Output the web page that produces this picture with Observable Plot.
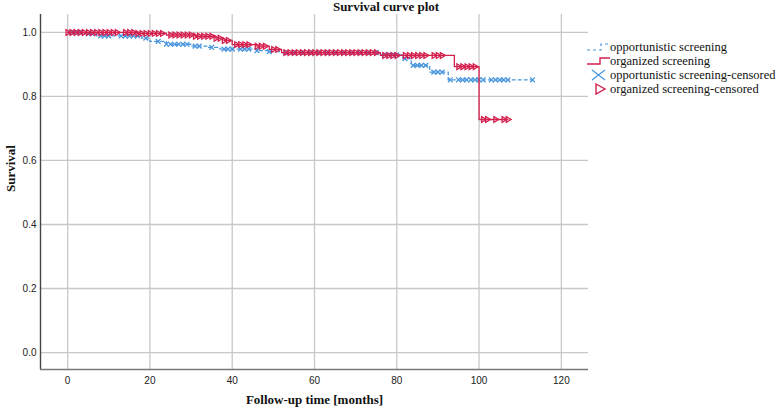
<!DOCTYPE html>
<html>
<head>
<meta charset="utf-8">
<script src="https://cdn.jsdelivr.net/npm/d3@7"></script>
<script src="https://cdn.jsdelivr.net/npm/@observablehq/plot@0.6"></script>
<style>
  body { margin: 0; background: #fff; }
  #wrap { position: relative; width: 778px; height: 411px; overflow: hidden; }
  #title { position: absolute; top: -1px; left: 0; width: 772px; text-align: center;
           font: bold 13px "Liberation Serif", "Times New Roman", serif; color: #111; }
  #legend { position: absolute; left: 586px; top: 40px;
            font: 12.5px "Liberation Serif", "Times New Roman", serif; color: #111; }
  .item { display: flex; align-items: center; height: 14px; }
  .item svg { width: 24px; height: 14px; flex: none; }
</style>
</head>
<body>
<div id="wrap">
  <div id="chart"></div>
  <div id="title">Survival curve plot</div>
  <div id="legend"></div>
</div>
<script>
// ---- data ----
const seriesNames = ["opportunistic screening", "organized screening"];
const legendLabels = ["opportunistic screening", "organized screening",
                      "opportunistic screening-censored", "organized screening-censored"];

// opportunistic screening: step times (months) and survival
const oppTime = [0, 4, 7, 18, 20, 24, 30, 34, 37, 46, 49, 52, 76, 81.5, 83.5, 88, 92.5, 113];
const oppSurv = [1.0, 0.996, 0.989, 0.982, 0.972, 0.963, 0.957, 0.953, 0.948, 0.943, 0.94, 0.937, 0.93, 0.918, 0.897, 0.876, 0.852, 0.852];
// opportunistic screening: censored times
const oppCensored = [1,2,3,5,6,8,9,10,13,14,15,16,17,19,22,24,25,26,27,28,29,31,32,35,38,39,40,42,43,44,46,49,
  53,55,57,59,61,63,65,67,69,71,73,75,77,78,79,80,82,84,85,86,87,89,90,91,93,95,96,97,98,99,100,101,103,104,105,106,107,113];

// organized screening: step times (months) and survival
const orgTime = [0, 17, 24, 31, 36, 38, 40, 46, 49, 52, 76, 94, 100, 107];
const orgSurv = [1.0, 0.997, 0.992, 0.988, 0.982, 0.975, 0.962, 0.957, 0.947, 0.937, 0.928, 0.893, 0.728, 0.728];
// organized screening: censored times
const orgCensored = [0,1,2,3,4,5,6,7,8,9,10,11,12,14,15,16,17,18,19,20,21,22,23,25,26,27,28,29,30,31,32,33,34,35,36,37,38,39,
  41,42,43,44,46,47,48,50,51,53,54,55,56,57,58,59,60,61,62,63,64,65,66,67,68,69,70,71,72,73,74,75,
  77,78,79,80,82,83,84,85,86,87,89,90,91,95,96,97,98,99,101,102,104,106,107];

const xTicks = [0, 20, 40, 60, 80, 100, 120];
const yTicks = [0, 0.2, 0.4, 0.6, 0.8, 1.0];
const xDomain = [-6.6, 126.6];
const yDomain = [-0.053, 1.056];
const xLabel = "Follow-up time [months]";
const yLabel = "Survival";

const blue = "#4a96dd";
const red = "#d4204e";

// ---- build tables ----
function survAt(T, S, t) {
  let s = S[0];
  for (let i = 0; i < T.length; i++) if (T[i] <= t) s = S[i];
  return s;
}
const oppLine = oppTime.map((t, i) => ({t, s: oppSurv[i]}));
const orgLine = orgTime.map((t, i) => ({t, s: orgSurv[i]}));
const oppCens = oppCensored.map(t => ({t, s: survAt(oppTime, oppSurv, t)}));
const orgCens = orgCensored.map(t => ({t, s: survAt(orgTime, orgSurv, t)}));

const chart = Plot.plot({
  width: 778,
  height: 411,
  marginLeft: 40,
  marginRight: 190,
  marginTop: 14,
  marginBottom: 42,
  style: { fontFamily: "'Liberation Sans', Arial, sans-serif", fontSize: "10px", color: "#222", background: "#fff" },
  x: { domain: xDomain, ticks: xTicks },
  y: { domain: yDomain, ticks: yTicks },
  marks: [
    Plot.gridX(xTicks, { stroke: "#c8c8c8", strokeOpacity: 1, strokeWidth: 1.3 }),
    Plot.gridY(yTicks, { stroke: "#c8c8c8", strokeOpacity: 1, strokeWidth: 1.3 }),
    Plot.ruleX([xDomain[0]], { stroke: "#444", strokeWidth: 1.4 }),
    Plot.ruleY([yDomain[0]], { stroke: "#777", strokeWidth: 1.4 }),
    Plot.axisX(xTicks, { tickSize: 0, tickPadding: 7, label: null, tickFormat: d => String(d) }),
    Plot.axisY(yTicks, { tickSize: 0, tickPadding: 4, label: null, tickFormat: d3.format(".1f") }),
    Plot.line(oppLine, { x: "t", y: "s", curve: "step-after", stroke: blue, strokeWidth: 1.3, strokeDasharray: "3,3" }),
    Plot.dot(oppCens, { x: "t", y: "s", symbol: "times", r: 2.3, stroke: blue, strokeWidth: 1.3 }),
    Plot.line(orgLine, { x: "t", y: "s", curve: "step-after", stroke: red, strokeWidth: 1.3 }),
    Plot.dot(orgCens, { x: "t", y: "s", symbol: "triangle", rotate: 90, r: 2.1, stroke: red, fill: "none", strokeWidth: 1.3 }),
    Plot.text([xLabel], { frameAnchor: "bottom", dy: 34, text: d => d,
      fontFamily: "'Liberation Serif', 'Times New Roman', serif", fontWeight: "bold", fontSize: 13, fill: "#111" }),
    Plot.text([yLabel], { frameAnchor: "left", dx: -30, rotate: -90, text: d => d,
      fontFamily: "'Liberation Serif', 'Times New Roman', serif", fontWeight: "bold", fontSize: 13, fill: "#111" })
  ]
});
document.getElementById("chart").appendChild(chart);

// ---- legend ----
const glyphs = [
  `<path d="M1,10 H15 V4 H23" fill="none" stroke="${blue}" stroke-width="1.2" stroke-dasharray="3,3"/>`,
  `<path d="M1,10 H14 V4 H24" fill="none" stroke="${red}" stroke-width="1.4"/>`,
  `<path d="M6,2 L19,12 M6,12 L19,2" fill="none" stroke="${blue}" stroke-width="1.3"/>`,
  `<path d="M10,2 L19,7 L10,12 Z" fill="none" stroke="${red}" stroke-width="1.4"/>`
];
const leg = document.getElementById("legend");
legendLabels.forEach((lab, i) => {
  const row = document.createElement("div");
  row.className = "item";
  row.innerHTML = `<svg viewBox="0 0 24 14">${glyphs[i]}</svg><span>${lab}</span>`;
  leg.appendChild(row);
});
</script>
</body>
</html>
